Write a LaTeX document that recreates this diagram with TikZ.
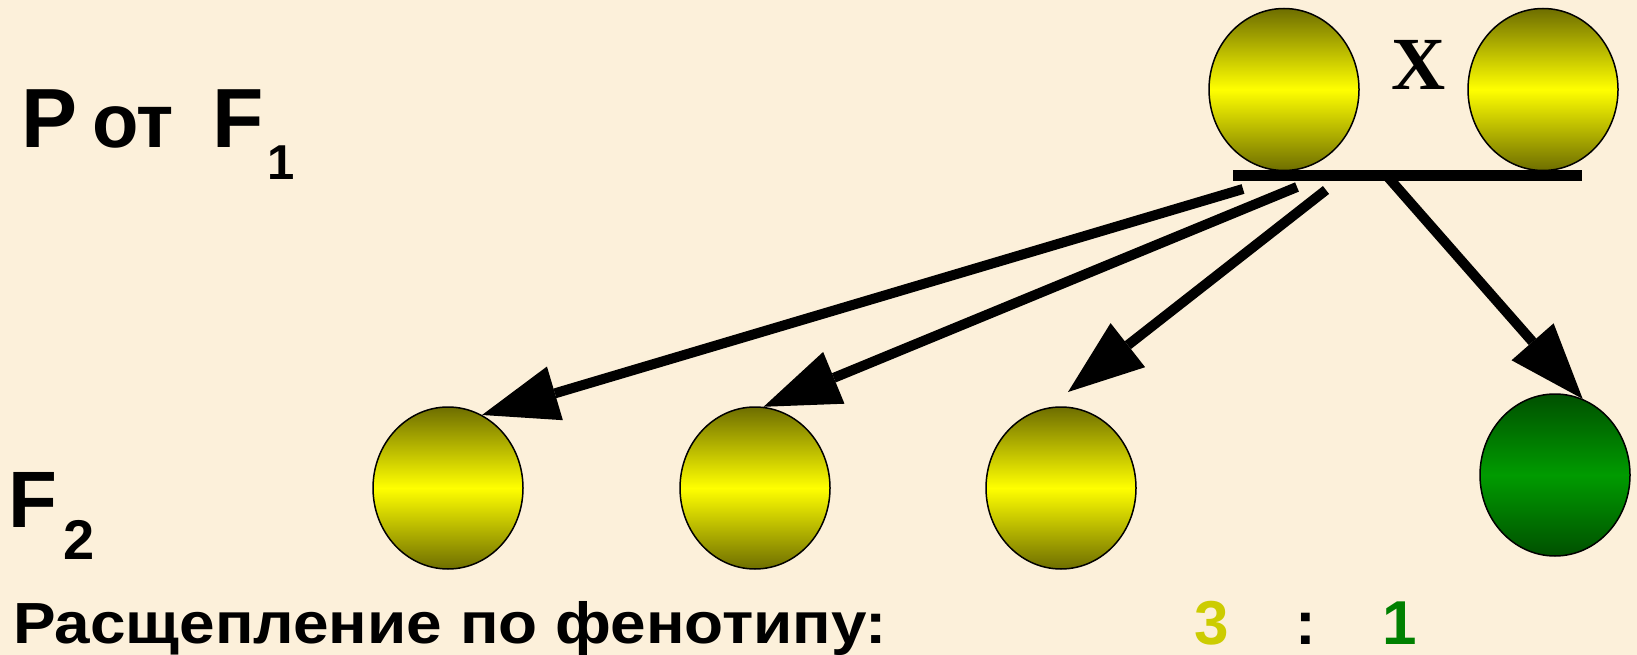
\documentclass[tikz,border=0pt]{standalone}
\usepackage{fontspec}
\setmainfont{Liberation Sans}
\newfontfamily\timesf{Liberation Serif}
\usetikzlibrary{shapes.geometric,arrows.meta}
\definecolor{bg}{RGB}{252,240,218}
\definecolor{olivedark}{RGB}{110,110,0}
\definecolor{yel}{RGB}{255,255,0}
\definecolor{gdark}{RGB}{0,80,0}
\definecolor{gmid}{RGB}{0,155,0}
\definecolor{three}{RGB}{204,204,0}
\definecolor{one}{RGB}{0,128,0}
\newcommand{\fsz}[1]{\fontsize{#1pt}{#1pt}\selectfont}
\begin{document}
\begin{tikzpicture}[x=1pt,y=-1pt,
  pea/.style={ellipse, draw=black, line width=1.5pt, minimum width=150pt, minimum height=162pt, inner sep=0pt,
    top color=olivedark, bottom color=olivedark, middle color=yel},
  greenpea/.style={pea, top color=gdark, bottom color=gdark, middle color=gmid},
  arr/.style={line width=10pt, -{Triangle[length=76pt,width=56pt,line width=0pt]}},
  lbl/.style={inner sep=0pt, outer sep=0pt, font=\bfseries},
  bar/.style={line width=11pt}
]
\fill[bg] (0,0) rectangle (1637,655);
\useasboundingbox (0,0) rectangle (1637,655);

% parents
\node[pea] (p1) at (1284,89.5) {};
\node[pea] (p2) at (1543,89.5) {};
\node[lbl, anchor=base, font=\timesf\bfseries\fsz{75}] (x) at (1419,90) {X};
\coordinate (barL) at (1233,175.5);
\coordinate (barR) at (1582,175.5);
\draw[bar] (barL) -- (barR);

% offspring
\node[pea] (c1) at (448,488) {};
\node[pea] (c2) at (755,488) {};
\node[pea] (c3) at (1061,488) {};
\node[greenpea] (c4) at (1555,475) {};

% arrows
\coordinate (s1) at (1243,189);
\coordinate (s2) at (1297,187);
\coordinate (s3) at (1326,190);
\coordinate (s4) at (1387,176);
\coordinate (t3) at (1068,392);
\draw[arr] (s1) -- (c1.65);
\draw[arr] (s2) -- (c2.84);
\draw[arr] (s3) -- (t3);
\draw[arr] (s4) -- (c4.70);

% labels
\node[lbl, anchor=base west, font=\bfseries\fsz{84}] (P) at (21,148) {P};
\node[lbl, anchor=base west, font=\bfseries\fsz{76}] (ot) at (92,148) {от};
\node[lbl, anchor=base west, font=\bfseries\fsz{84}] (F1) at (212,148) {F};
\node[lbl, anchor=base, font=\bfseries\fsz{49}] (sub1) at (281,180) {1};
\node[lbl, anchor=base west, font=\bfseries\fsz{80}] (F2) at (9,527) {F};
\node[lbl, anchor=base, font=\bfseries\fsz{56}] (sub2) at (79,559) {2};
\node[lbl, anchor=base west, font=\bfseries\fsz{58}] (split) at (13,643) {\resizebox{874pt}{\height}{Расщепление по фенотипу:}};
\node[lbl, anchor=base, text depth=0pt, font=\bfseries\fsz{62}, text=three] (n3) at (1211.5,644) {3};
\node[lbl, anchor=base, text depth=0pt, font=\bfseries\fsz{62}] (colon) at (1305.5,644) {:};
\node[lbl, anchor=base, text depth=0pt, font=\bfseries\fsz{62}, text=one] (n1) at (1400,644) {1};
\end{tikzpicture}
\end{document}
